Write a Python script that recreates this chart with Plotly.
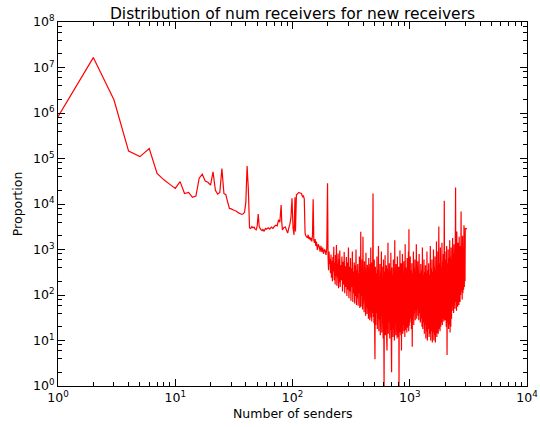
import plotly.graph_objects as go

# ---- data ----
head_x = [1, 2, 3, 4, 5, 6, 7, 8, 9, 10, 11, 12, 13, 14, 15, 16, 17, 18, 19, 20,
          21, 22, 23, 24, 25, 26, 27, 28, 29, 30, 31, 32, 33, 34, 35, 36, 37, 38, 39, 40,
          41, 42, 43, 44, 45, 46, 47, 48, 49, 50, 51, 52, 53, 54, 55, 56, 57, 58, 59, 60]
head_y = [8.3e5, 1.65e7, 1.95e6, 1.45e5, 1.1e5, 1.66e5, 4.7e4, 3.4e4, 2.7e4, 2.2e4,
          3.1e4, 1.7e4, 1.8e4, 1.4e4, 1.5e4, 3.7e4, 4.5e4, 3.2e4, 3.0e4, 2.6e4,
          5.1e4, 2.0e4, 1.65e4, 1.8e4, 6.0e4, 1.7e4, 1.6e4, 1.1e4, 8.0e3, 7.8e3,
          7.5e3, 7.2e3, 7.0e3, 6.6e3, 6.3e3, 6.1e3, 5.9e3, 6.1e3, 6.6e3, 1.1e4,
          6.8e4, 2.2e4, 3.0e3, 2.9e3, 3.2e3, 3.0e3, 3.1e3, 2.8e3, 2.7e3, 3.3e3,
          6.0e3, 3.2e3, 2.9e3, 2.7e3, 2.6e3, 2.8e3, 2.5e3, 2.7e3, 2.9e3, 2.8e3]

mid_x = [62, 64, 66, 68, 70, 72, 74, 76, 78, 80, 81, 82, 84, 87, 89, 91, 93, 95, 97, 99,
         101, 103, 105, 106, 108, 110, 113, 116, 119, 122, 124, 126, 128, 130, 132, 134,
         136, 138, 140, 142, 144, 146, 148, 150, 152, 154, 156, 158, 160, 163, 166, 169,
         172, 175, 178, 181, 184, 187, 190, 193, 196, 199]
mid_y = [3.0e3, 2.8e3, 3.1e3, 2.9e3, 3.2e3, 3.4e3, 3.3e3, 4.5e3, 4.0e3, 9.5e3,
         4.0e3, 2.7e3, 3.0e3, 3.1e3, 2.6e3, 2.3e3, 3.0e3, 3.6e3, 5.0e3, 1.33e4,
         3.0e3, 2.1e3, 1.4e4, 2.5e3, 1.6e4, 1.65e4, 1.8e4, 1.75e4, 1.7e4, 1.45e4,
         1.5e4, 1.3e4, 2.3e3, 2.0e3, 1.9e3, 1.8e3, 2.1e3, 1.7e3, 1.9e3, 1.6e3,
         1.8e3, 1.5e3, 2.0e3, 1.27e4, 1.6e3, 1.4e3, 1.7e3, 1.2e3, 1.5e3, 980,
         1.3e3, 1.15e3, 900, 1.2e3, 880, 1.1e3, 800, 1.0e3, 950, 760, 1.05e3, 2.85e4]

d1_x = [201, 203, 205, 207, 209, 211, 213, 215, 217, 219, 221, 223, 225, 227, 229, 231,
        233, 235, 237, 239, 241, 243, 245, 247, 249, 251, 253, 255, 258, 261, 264, 267,
        270, 273, 276, 279, 282, 285, 288, 291, 294, 297, 300]
d1_y = [700, 350, 900, 480, 620, 300, 780, 240, 560, 200, 680, 330, 1150, 210, 520, 170,
        760, 260, 1250, 160, 480, 240, 820, 140, 600, 190, 950, 150, 450, 210, 700, 120,
        540, 170, 880, 110, 430, 150, 680, 95, 520, 130, 1100]

d2_x = [303, 306, 309, 312, 315, 318, 321, 324, 327, 330, 333, 336, 339, 342, 345, 348,
        351, 354, 357, 360, 363, 366, 369, 372, 375, 378, 380, 382, 384, 387, 390, 393,
        396, 399, 402, 405, 408, 411, 414, 417, 420, 423, 426, 429, 432, 435, 438, 441,
        444, 447, 450, 453, 456, 459, 462, 465, 468, 471, 474, 477, 480, 483, 486, 489,
        492, 495, 498, 501]
d2_y = [85, 420, 120, 650, 75, 380, 150, 900, 70, 330, 110, 520, 65, 450, 95, 1000,
        60, 350, 85, 480, 58, 300, 110, 700, 52, 420, 75, 2460, 55, 360, 95, 600,
        48, 1900, 65, 320, 42, 550, 80, 380, 35, 850, 55, 280, 38, 460, 50, 400,
        30, 650, 62, 300, 28, 480, 45, 1100, 32, 350, 26, 520, 40, 420, 17000, 33,
        380, 24, 600, 30]

d3_x = [505, 509, 513, 517, 521, 525, 529, 533, 537, 541, 545, 549, 553, 557, 561, 565,
        569, 573, 577, 581, 585, 589, 593, 597, 600, 604, 608, 612, 616, 620, 624, 628,
        632, 636, 640, 644, 648, 652, 656, 660, 665, 670, 675, 680, 685, 690, 695, 700,
        705, 710, 715, 720, 725, 730, 735, 740, 745, 750, 755, 760, 765, 770, 775, 780,
        785, 790, 795, 800, 805, 810, 815, 820, 825, 830, 835, 840, 845, 850, 855, 860,
        866, 872, 878, 884, 890, 896, 902, 908, 914, 920, 926, 932, 938, 944, 950, 956,
        962, 968, 974, 980, 984, 990, 996]
d3_y = [3.85, 420, 22, 300, 40, 700, 18, 350, 30, 1200, 16, 260, 28, 480, 13, 320,
        35, 900, 15, 250, 24, 420, 11, 600, 28, 1.0, 330, 19, 750, 13, 280, 30,
        450, 10, 6, 380, 21, 1400, 14, 300, 26, 500, 11, 340, 17, 850, 12, 2.0,
        400, 21, 270, 12, 600, 18, 330, 10, 1600, 23, 300, 13, 480, 16, 260, 11,
        700, 25, 350, 12, 420, 1.0, 380, 15, 950, 20, 280, 13, 500, 6, 330, 18,
        800, 14, 300, 22, 550, 16, 350, 12, 1300, 17, 400, 20, 280, 15, 650, 19,
        370, 25, 900, 16, 2800, 21, 450]

d4_x = [1002, 1010, 1018, 1026, 1034, 1042, 1050, 1058, 1066, 1074, 1082, 1090, 1098,
        1106, 1114, 1122, 1130, 1138, 1146, 1154, 1162, 1170, 1178, 1186, 1194, 1202,
        1212, 1222, 1232, 1242, 1252, 1262, 1272, 1282, 1292, 1302, 1312, 1322, 1332,
        1342, 1352, 1362, 1372, 1382, 1392, 1402, 1414, 1426, 1438, 1450, 1462, 1474,
        1486, 1498, 1510, 1522, 1534, 1546, 1558, 1570, 1582, 1594, 1606, 1618, 1630,
        1642, 1654, 1666, 1678, 1690, 1702, 1714, 1726, 1738, 1750, 1770, 1784, 1798,
        1812, 1826, 1840, 1854, 1868, 1882, 1896, 1910, 1924, 1938, 1952, 1970, 1985]
d4_y = [25, 700, 30, 350, 18, 500, 7.3, 300, 35, 900, 22, 380, 40,
        600, 28, 300, 45, 1300, 30, 420, 50, 550, 35, 330, 28, 800,
        40, 300, 25, 480, 30, 350, 20, 1100, 18, 280, 25, 600, 14,
        320, 22, 450, 11, 300, 16, 900, 10, 350, 18, 500, 12, 280,
        14, 1200, 10, 380, 16, 600, 9, 320, 15, 1000, 10, 420, 13,
        700, 9, 350, 14, 1500, 12, 450, 15, 900, 14, 3200, 18, 500,
        16, 1100, 20, 400, 25, 1400, 22, 550, 30, 800, 26, 11800, 28]

d5_x = [2000, 2016, 2032, 2048, 2064, 2080, 2096, 2112, 2128, 2144, 2160, 2176, 2192,
        2208, 2224, 2240, 2256, 2272, 2288, 2304, 2320, 2336, 2352, 2368, 2384, 2400,
        2416, 2432, 2460, 2475, 2490, 2505, 2520, 2535, 2550, 2565, 2580, 2595, 2610,
        2625, 2640, 2655, 2670, 2685, 2700, 2715, 2740, 2760, 2780, 2800, 2820, 2840,
        2860, 2880, 2900, 2920, 2940, 2960, 2975, 3080]
d5_y = [900, 28, 600, 20, 1200, 4.8, 500, 25, 1000, 18, 650, 22, 1600,
        15, 700, 20, 1100, 30, 600, 45, 1800, 55, 800, 40, 1300, 60,
        700, 50, 23000, 70, 900, 45, 2500, 80, 750, 55, 1400, 75, 600,
        60, 1900, 90, 800, 70, 1200, 100, 6800, 120, 1000, 80, 2000, 110,
        700, 130, 3400, 150, 1300, 200, 2900, 2850]

x_tick_vals = [1, 10, 100, 1000, 10000]
x_tick_text = ["10<sup>0</sup>", "10<sup>1</sup>", "10<sup>2</sup>", "10<sup>3</sup>", "10<sup>4</sup>"]
y_tick_vals = [1, 10, 100, 1e3, 1e4, 1e5, 1e6, 1e7, 1e8]
y_tick_text = ["10<sup>%d</sup>" % k for k in range(9)]

senders = head_x + mid_x + d1_x + d2_x + d3_x + d4_x + d5_x
proportion = head_y + mid_y + d1_y + d2_y + d3_y + d4_y + d5_y

minor_x = [m * 10 ** k for k in range(4) for m in range(2, 10)]
minor_y = [m * 10 ** k for k in range(8) for m in (2, 4, 6, 8)]

fig = go.Figure(go.Scatter(
    x=senders, y=proportion, mode="lines",
    line=dict(color="#ff0000", width=1.2, simplify=False),
    hoverinfo="skip"))

axis_common = dict(
    type="log", showline=True, linecolor="black", linewidth=1, mirror="ticks",
    ticks="inside", ticklen=7, tickwidth=1, tickcolor="black",
    showgrid=False, zeroline=False, automargin=False,
    tickfont=dict(family="DejaVu Sans", size=12.5, color="black"),
)

fig.update_xaxes(range=[0, 4], tickvals=x_tick_vals, ticktext=x_tick_text,
                 minor=dict(ticks="inside", ticklen=4, tickcolor="black",
                            tickvals=minor_x, showgrid=False),
                 **axis_common)
fig.update_yaxes(range=[0, 8], tickvals=y_tick_vals, ticktext=y_tick_text,
                 minor=dict(ticks="inside", ticklen=4, tickcolor="black",
                            tickvals=minor_y, showgrid=False),
                 **axis_common)

fig.update_layout(
    width=540, height=427,
    margin=dict(l=58, r=13, t=22, b=41),
    paper_bgcolor="white", plot_bgcolor="white",
    showlegend=False,
    font=dict(family="DejaVu Sans", color="black"),
    title=dict(text="Distribution of num receivers for new receivers",
               x=0.5, xref="paper", xanchor="center",
               y=1 - 14 / 427, yref="container", yanchor="middle",
               font=dict(family="DejaVu Sans", size=15.5, color="black")),
    annotations=[
        dict(text="Number of senders", xref="paper", yref="paper",
             x=0.5, y=-0.0745, xanchor="center", yanchor="middle", showarrow=False,
             font=dict(family="DejaVu Sans", size=12.5, color="black")),
        dict(text="Proportion", xref="paper", yref="paper",
             x=-0.087, y=0.5, xanchor="center", yanchor="middle", showarrow=False,
             textangle=-90,
             font=dict(family="DejaVu Sans", size=12.5, color="black")),
    ],
)

fig.write_html("out.html")
